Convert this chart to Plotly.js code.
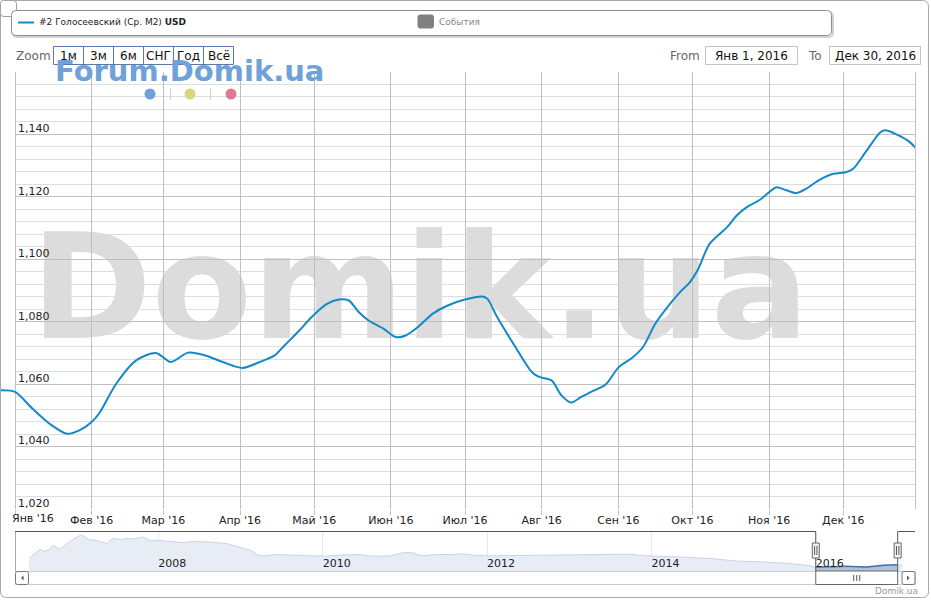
<!DOCTYPE html>
<html><head><meta charset="utf-8">
<script src="https://cdn.plot.ly/plotly-3.0.1.min.js"></script>
<style>html,body{margin:0;padding:0;background:#fff;}#chart{width:931px;height:600px;}</style>
</head><body><div id="chart"></div>
<script>
// ---- data ----
const dates = ["2015-12-26","2016-01-01","2016-01-08","2016-01-15","2016-01-22","2016-01-27","2016-02-01","2016-02-04","2016-02-11","2016-02-19","2016-02-27","2016-03-04","2016-03-11","2016-03-18","2016-03-25","2016-04-02","2016-04-09","2016-04-15","2016-04-19","2016-04-25","2016-04-30","2016-05-06","2016-05-11","2016-05-15","2016-05-19","2016-05-23","2016-05-29","2016-06-03","2016-06-07","2016-06-12","2016-06-18","2016-06-24","2016-07-01","2016-07-08","2016-07-10","2016-07-14","2016-07-21","2016-07-28","2016-07-31","2016-08-05","2016-08-09","2016-08-13","2016-08-17","2016-08-21","2016-08-27","2016-09-01","2016-09-07","2016-09-11","2016-09-16","2016-09-22","2016-09-26","2016-09-30","2016-10-03","2016-10-08","2016-10-15","2016-10-19","2016-10-23","2016-10-28","2016-11-01","2016-11-04","2016-11-08","2016-11-12","2016-11-16","2016-11-21","2016-11-27","2016-12-02","2016-12-05","2016-12-10","2016-12-16","2016-12-18","2016-12-22","2016-12-27","2017-01-01"];
const values = [1058.0,1057.5,1052.2,1047.3,1044.1,1045.2,1047.9,1050.6,1060.2,1067.6,1070.0,1067.1,1070.1,1069.2,1067.1,1065.2,1067.1,1069.2,1072.4,1077.2,1081.5,1085.6,1087.1,1086.8,1083.1,1080.4,1077.8,1075.1,1075.6,1078.3,1082.6,1085.2,1087.1,1088.1,1087.4,1081.5,1072.4,1063.9,1062.3,1061.2,1056.4,1054.1,1055.9,1057.5,1060.0,1065.3,1068.7,1071.9,1079.4,1085.8,1089.5,1092.7,1096.4,1105.0,1110.3,1114.1,1116.7,1118.9,1121.5,1123.1,1122.1,1121.2,1122.6,1125.3,1127.4,1127.9,1129.0,1134.3,1140.7,1141.3,1140.2,1138.1,1134.3];

const historyDates = ["2006-06-05","2006-06-13","2006-06-24","2006-07-09","2006-07-24","2006-08-08","2006-08-30","2006-09-21","2006-10-21","2006-11-20","2007-01-03","2007-01-25","2007-02-24","2007-04-02","2007-05-16","2007-06-15","2007-07-14","2007-08-13","2007-09-12","2007-10-26","2007-11-25","2008-01-01","2008-02-07","2008-04-21","2008-06-05","2008-08-18","2008-11-01","2008-12-30","2009-02-13","2009-03-22","2009-04-13","2009-06-11","2009-08-24","2009-11-06","2009-12-31","2010-03-19","2010-06-01","2010-08-14","2010-10-27","2010-12-25","2011-02-08","2011-03-17","2011-05-22","2011-08-04","2011-09-04","2011-10-14","2011-11-02","2012-01-01","2012-06-27","2012-11-22","2013-05-19","2013-09-15","2013-12-13","2014-04-25","2014-09-21","2015-01-17","2015-05-01","2015-08-27","2015-12-01"];
const historyValues = [1383,1443,1535,1635,1736,1660,1698,1888,1736,1953,2203,2293,2116,2078,1953,2165,2116,2142,2142,2203,2078,2078,2052,1991,2040,2014,1953,1824,1698,1508,1481,1535,1508,1481,1470,1508,1535,1470,1481,1609,1595,1481,1535,1535,1560,1535,1508,1481,1508,1508,1535,1546,1481,1443,1383,1280,1254,1193,1110];
const tailDates = ["2017-01-20"];
const tailValues = [1120];

const monthTicks = ["2016-01-01","2016-02-01","2016-03-01","2016-04-01","2016-05-01","2016-06-01","2016-07-01","2016-08-01","2016-09-01","2016-10-01","2016-11-01","2016-12-01"];
const monthLabels = ["Янв '16","Фев '16","Мар '16","Апр '16","Май '16","Июн '16","Июл '16","Авг '16","Сен '16","Окт '16","Ноя '16","Дек '16"];
const yTicks = [1020,1040,1060,1080,1100,1120,1140,1160];
const yLabels = ["1,020","1,040","1,060","1,080","1,100","1,120","1,140",""];
const navYearTicks = ["2008-01-01","2010-01-01","2012-01-01","2014-01-01","2016-01-01"];
const navYearLabels = ["2008","2010","2012","2014","2016"];
const seriesName = "#2 Голосеевский (Ср. М2)";
const currency = "USD";
const eventsLabel = "События";
const zoomButtons = ["1м","3м","6м","СНГ","Год","Всё"];
const rangeFrom = "Янв 1, 2016";
const rangeTo = "Дек 30, 2016";
const selStart = "2016-01-01";
const selEnd = "2016-12-30";

// ---- helpers (pixel -> paper) ----
const W = 931, H = 600;
const X = v => v / W;
const Y = v => 1 - v / H;
const f = v => v.toFixed(5);
function rr(x0, y0, x1, y1, r) {
  const a = X(x0), b = X(x1), c = Y(y0), d = Y(y1), rx = r / W, ry = r / H;
  return `M${f(a+rx)},${f(c)} L${f(b-rx)},${f(c)} Q${f(b)},${f(c)} ${f(b)},${f(c-ry)} L${f(b)},${f(d+ry)} Q${f(b)},${f(d)} ${f(b-rx)},${f(d)} L${f(a+rx)},${f(d)} Q${f(a)},${f(d)} ${f(a)},${f(d+ry)} L${f(a)},${f(c-ry)} Q${f(a)},${f(c)} ${f(a+rx)},${f(c)} Z`;
}
const FONT = "DejaVu Sans";
const LINE_COLOR = "#1489c8";

const navDates = historyDates.concat(dates, tailDates);
const navValues = historyValues.concat(values, tailValues);
const selDates = [], selValues = [];
dates.forEach((d, i) => { if (d >= selStart && d <= selEnd) { selDates.push(d); selValues.push(values[i]); } });

const mainRange = ["2015-12-25 22:24", selEnd];
const navRange = ["2006-04-04", "2017-03-17"];

const traces = [
  { x: dates, y: values, type: "scatter", mode: "lines", xaxis: "x", yaxis: "y",
    line: { color: LINE_COLOR, width: 2, shape: "spline", smoothing: 0.8 }, hoverinfo: "skip" },
  { x: navDates, y: navValues, type: "scatter", mode: "lines", xaxis: "x2", yaxis: "y2",
    fill: "tozeroy", fillcolor: "#e8ecf5", line: { color: "#c9d3e6", width: 1 }, hoverinfo: "skip" },
  { x: selDates, y: selValues, type: "scatter", mode: "lines", xaxis: "x2", yaxis: "y2",
    fill: "tozeroy", fillcolor: "rgba(69,114,167,0.35)", line: { color: "#4572a7", width: 1.5 }, hoverinfo: "skip" }
];

const shapes = [];
// watermark
shapes.push({ type: "rect", xref: "paper", yref: "paper", x0: X(320), x1: X(520), y0: Y(327), y1: Y(227),
  line: { width: 0 }, fillcolor: "rgba(0,0,0,0)", layer: "below",
  label: { text: "Domik.ua", textposition: "middle center",
    font: { family: FONT, size: 146, color: "#dcdcdc", weight: "bold" } } });
// cover gridlines left of Jan 1
shapes.push({ type: "rect", xref: "x", yref: "y", x0: mainRange[0], x1: "2015-12-31 21:00", y0: 1019, y1: 1161,
  line: { width: 0 }, fillcolor: "#ffffff", layer: "between" });
// right plot border
shapes.push({ type: "line", xref: "paper", yref: "paper", x0: X(915.5), x1: X(915.5), y0: Y(509), y1: Y(72),
  line: { color: "#c0c0c0", width: 1 } });
// outer frame
shapes.push({ type: "path", xref: "paper", yref: "paper", path: rr(0.5, 0.5, 928.5, 597.5, 6), line: { color: "#a8a8a8", width: 1 } });
shapes.push({ type: "path", xref: "paper", yref: "paper", path: rr(0.5, 0.5, 16.5, 16.5, 3), fillcolor: "#ffffff", line: { color: "#a0a0a0", width: 1 } });
// legend box with shadow
shapes.push({ type: "path", xref: "paper", yref: "paper", path: rr(12.5, 12, 833, 37, 5), fillcolor: "rgba(0,0,0,0)", line: { color: "rgba(0,0,0,0.18)", width: 2 } });
shapes.push({ type: "path", xref: "paper", yref: "paper", path: rr(11.5, 10.5, 831.5, 35.5, 5), fillcolor: "#ffffff", line: { color: "#8c8c8c", width: 1 } });
shapes.push({ type: "line", xref: "paper", yref: "paper", x0: X(18), x1: X(34), y0: Y(22.5), y1: Y(22.5), line: { color: LINE_COLOR, width: 2 } });
shapes.push({ type: "path", xref: "paper", yref: "paper", path: rr(418, 15, 433.5, 28, 2), fillcolor: "#808080", line: { color: "#808080", width: 1 } });
// zoom buttons
shapes.push({ type: "rect", xref: "paper", yref: "paper", x0: X(53.5), x1: X(233.5), y0: Y(64.5), y1: Y(46.5), line: { color: "#5b7aa8", width: 1 } });
[83.5, 113.5, 143.5, 173.5, 203.5].forEach(x => shapes.push({ type: "line", xref: "paper", yref: "paper", x0: X(x), x1: X(x), y0: Y(64.5), y1: Y(46.5), line: { color: "#5b7aa8", width: 1 } }));
// from/to boxes
shapes.push({ type: "rect", xref: "paper", yref: "paper", x0: X(705.5), x1: X(797.5), y0: Y(64.5), y1: Y(46.5), line: { color: "#c4c4c4", width: 1 } });
shapes.push({ type: "rect", xref: "paper", yref: "paper", x0: X(829.5), x1: X(920.5), y0: Y(64.5), y1: Y(46.5), line: { color: "#c4c4c4", width: 1 } });
// colored dots
[[150, "#6fa1d9"], [190, "#d5d97c"], [231, "#dc7a93"]].forEach(([cx, col]) => shapes.push({ type: "circle", xref: "paper", yref: "paper",
  x0: X(cx - 5.5), x1: X(cx + 5.5), y0: Y(99.5), y1: Y(88.5), fillcolor: col, line: { width: 0 } }));
[170.5, 210.5].forEach(x => shapes.push({ type: "line", xref: "paper", yref: "paper", x0: X(x), x1: X(x), y0: Y(100), y1: Y(88), line: { color: "#cfcfcf", width: 1 } }));
// navigator outline
const outline = { color: "#555555", width: 1 };
shapes.push({ type: "line", xref: "x2", yref: "paper", x0: navRange[0], x1: selStart, y0: Y(531.5), y1: Y(531.5), line: outline });
shapes.push({ type: "line", xref: "x2", yref: "paper", x0: selEnd, x1: navRange[1], y0: Y(531.5), y1: Y(531.5), line: outline });
shapes.push({ type: "line", xref: "x2", yref: "paper", x0: navRange[0], x1: navRange[0], y0: Y(531.5), y1: Y(571), line: outline });
shapes.push({ type: "line", xref: "x2", yref: "paper", x0: selStart, x1: selStart, y0: Y(531.5), y1: Y(571), line: outline });
shapes.push({ type: "line", xref: "x2", yref: "paper", x0: selEnd, x1: selEnd, y0: Y(531.5), y1: Y(571), line: outline });
// scrollbar
shapes.push({ type: "rect", xref: "paper", yref: "paper", x0: X(15.5), x1: X(915.5), y0: Y(584.5), y1: Y(571.5), line: { color: "#cccccc", width: 1 }, fillcolor: "#ffffff" });
shapes.push({ type: "path", xref: "paper", yref: "paper", path: rr(15.5, 571.5, 28.5, 584.5, 2), fillcolor: "#ffffff", line: { color: "#777777", width: 1 } });
shapes.push({ type: "path", xref: "paper", yref: "paper", path: rr(902, 571.5, 915, 584.5, 2), fillcolor: "#ffffff", line: { color: "#777777", width: 1 } });
shapes.push({ type: "path", xref: "paper", yref: "paper", path: `M${f(X(23.5))},${f(Y(575.5))} L${f(X(23.5))},${f(Y(580.5))} L${f(X(21))},${f(Y(578))} Z`, fillcolor: "#555", line: { width: 0 } });
shapes.push({ type: "path", xref: "paper", yref: "paper", path: `M${f(X(907))},${f(Y(575.5))} L${f(X(907))},${f(Y(580.5))} L${f(X(909.5))},${f(Y(578))} Z`, fillcolor: "#555", line: { width: 0 } });
shapes.push({ type: "rect", xref: "x2", yref: "paper", x0: selStart, x1: selEnd, y0: Y(584.5), y1: Y(571), fillcolor: "#ffffff", line: { color: "#666666", width: 1 } });
[-3, 0, 3].forEach(dx => shapes.push({ type: "line", xref: "x2", xsizemode: "pixel", xanchor: "2016-07-01", x0: dx, x1: dx, yref: "paper", y0: Y(581), y1: Y(575), line: { color: "#555", width: 1 } }));
// handles
[selStart, selEnd].forEach(d => {
  shapes.push({ type: "rect", xref: "x2", xsizemode: "pixel", xanchor: d, x0: -3.5, x1: 3.5, yref: "paper", y0: Y(558), y1: Y(543), fillcolor: "#f4f4f4", line: { color: "#666666", width: 1 } });
  [-1.2, 1.2].forEach(dx => shapes.push({ type: "line", xref: "x2", xsizemode: "pixel", xanchor: d, x0: dx, x1: dx, yref: "paper", y0: Y(555), y1: Y(546), line: { color: "#555", width: 1 } }));
});

const ann = [];
const A = (text, x, y, opts) => ann.push(Object.assign({ text, xref: "paper", yref: "paper", x: X(x), y: Y(y), showarrow: false,
  xanchor: "left", yanchor: "middle", font: { family: FONT, size: 12, color: "#222" } }, opts || {}));
A(seriesName + " <b>" + currency + "</b>", 37, 22.5, { font: { family: FONT, size: 9, color: "#222" } });
A(eventsLabel, 437, 22, { font: { family: FONT, size: 9, color: "#888" } });
A("Zoom", 13.5, 56, { font: { family: FONT, size: 12, color: "#666" } });
const btnCenters = [68.5, 98.5, 128.5, 158.5, 188.5, 218.5];
zoomButtons.forEach((b, i) => A(b, btnCenters[i], 56, { xanchor: "center", borderpad: 0, font: { family: FONT, size: 12, color: "#111" } }));
A("From", 702, 56, { xanchor: "right", font: { family: FONT, size: 12, color: "#666" } });
A(rangeFrom, 751.5, 56, { xanchor: "center", font: { family: FONT, size: 12, color: "#111" } });
A("To", 806, 56, { font: { family: FONT, size: 12, color: "#666" } });
A(rangeTo, 875, 56, { xanchor: "center", font: { family: FONT, size: 12, color: "#111" } });
A("Forum.Domik.ua", 54, 71.5, { borderpad: 0, font: { family: FONT, size: 29, color: "#6fa2d9", weight: "bold" } });
A(monthLabels[0], 33, 518.5, { xanchor: "center", font: { family: FONT, size: 11, color: "#222" } });
A("Domik.ua", 920, 591, { xanchor: "right", font: { family: FONT, size: 9, color: "#999" } });

const layout = {
  width: W, height: H, margin: { l: 0, r: 0, t: 0, b: 0 }, autosize: false,
  paper_bgcolor: "#ffffff", plot_bgcolor: "#ffffff", showlegend: false, hovermode: false,
  font: { family: FONT, size: 11, color: "#222" },
  xaxis: { type: "date", domain: [0, X(915)], range: mainRange, anchor: "y",
    tickvals: monthTicks, ticktext: [""].concat(monthLabels.slice(1)),
    showgrid: true, gridcolor: "#c0c0c0", gridwidth: 1, zeroline: false, showline: false,
    ticks: "outside", ticklen: 5, tickcolor: "#c0c0c0", ticklabelstandoff: -4,
    tickfont: { family: FONT, size: 11, color: "#222" } },
  yaxis: { domain: [Y(509), Y(72)], range: [1020, 1160], anchor: "x",
    tickvals: yTicks, ticktext: yLabels, ticks: "", showgrid: true, gridcolor: "#c0c0c0", gridwidth: 1,
    zeroline: false, showline: false, ticklabelposition: "inside", ticklabelshift: -6, ticklabelstandoff: 15,
    ticklabeloverflow: "allow",
    tickfont: { family: FONT, size: 11, color: "#222" },
    minor: { dtick: 4, tick0: 1020, showgrid: true, gridcolor: "#dedede", gridwidth: 1, ticks: "" } },
  xaxis2: { type: "date", domain: [X(15), X(915)], range: navRange, anchor: "y2",
    tickvals: navYearTicks, ticktext: navYearLabels, ticklabelposition: "inside right", ticks: "",
    ticklabelstandoff: -4,
    showgrid: true, gridcolor: "#e8e8e8", zeroline: false, showline: false,
    tickfont: { family: FONT, size: 11, color: "#222" } },
  yaxis2: { domain: [Y(571), Y(531.5)], range: [900, 2420], anchor: "x2", visible: false, showgrid: false, zeroline: false },
  shapes: shapes, annotations: ann
};

Plotly.newPlot("chart", traces, layout, { staticPlot: true, displayModeBar: false });
</script>
</body></html>
